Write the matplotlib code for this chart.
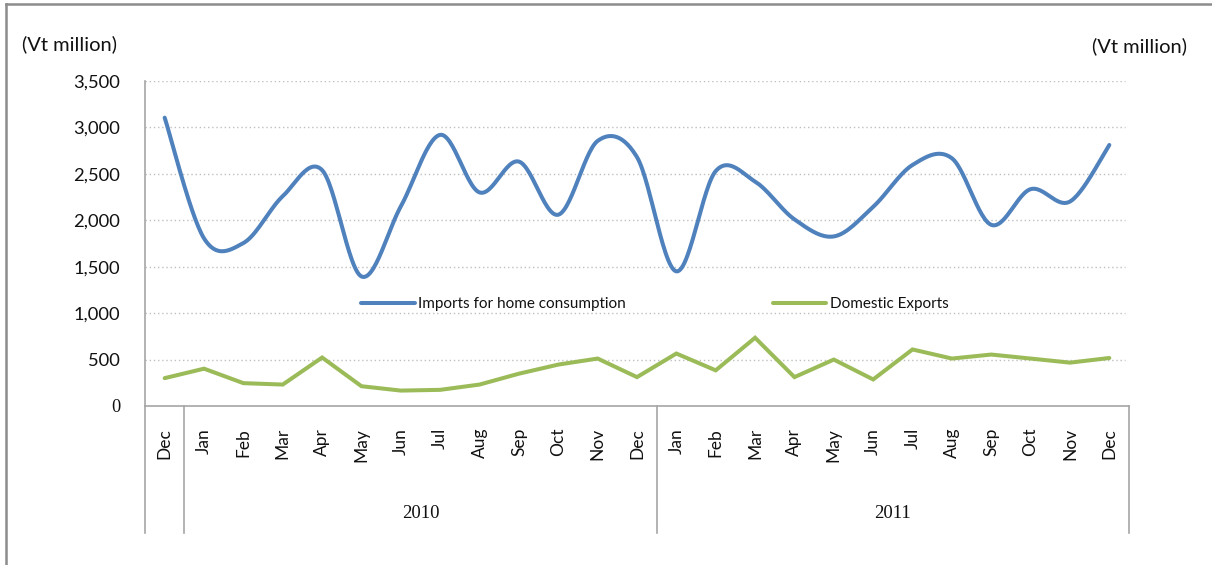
import numpy as np
import matplotlib
matplotlib.use("Agg")
import matplotlib.pyplot as plt
from matplotlib.lines import Line2D
import matplotlib.transforms as mtransforms

months = ["Dec", "Jan", "Feb", "Mar", "Apr", "May", "Jun", "Jul", "Aug", "Sep", "Oct", "Nov", "Dec",
          "Jan", "Feb", "Mar", "Apr", "May", "Jun", "Jul", "Aug", "Sep", "Oct", "Nov", "Dec"]
years = ["2010", "2011"]
imports_home = [3105, 1805, 1755, 2260, 2540, 1395, 2150, 2920, 2300, 2632, 2060, 2855, 2680,
                1450, 2530, 2417, 2010, 1826, 2145, 2596, 2668, 1951, 2335, 2202, 2811]
domestic_exports = [300, 402, 246, 231, 522, 213, 166, 174, 231, 348, 446, 511, 311,
                    565, 384, 735, 311, 500, 286, 609, 511, 554, 511, 467, 517]
yticks = [0, 500, 1000, 1500, 2000, 2500, 3000, 3500]

BLUE = "#4F81BD"
GREEN = "#9BBB59"
FONT = "Lato"
TXT = "#111111"


def smooth(xs, ys, n=30):
    xs = np.asarray(xs, float)
    ys = np.asarray(ys, float)
    P = np.column_stack([xs, ys])
    Pe = np.vstack([P[0], P, P[-1]])
    out = []
    t = np.linspace(0, 1, n)[:, None]
    for i in range(len(P) - 1):
        p0, p1, p2, p3 = Pe[i], Pe[i + 1], Pe[i + 2], Pe[i + 3]
        b0 = p1
        b1 = p1 + (p2 - p0) / 6.0
        b2 = p2 - (p3 - p1) / 6.0
        b3 = p2
        seg = ((1 - t) ** 3) * b0 + 3 * ((1 - t) ** 2) * t * b1 + 3 * (1 - t) * t ** 2 * b2 + t ** 3 * b3
        out.append(seg if i == 0 else seg[1:])
    out = np.vstack(out)
    return out[:, 0], out[:, 1]


W, H = 1212, 565
fig = plt.figure(figsize=(W / 100, H / 100), dpi=100)
fig.patch.set_facecolor("white")

x0, x1, y0, y1 = 145, 1129, 406, 81
ax = fig.add_axes([x0 / W, 1 - y0 / H, (x1 - x0) / W, (y0 - y1) / H])

n = len(months)
x = np.arange(n)
ax.set_xlim(-0.5, n - 0.5)
ax.set_ylim(0, 3500)

for v in yticks[1:]:
    ax.axhline(v, xmin=0, xmax=(1125 - x0) / (x1 - x0), color="#BFBFBF", lw=1.0,
               linestyle=(0, (1, 2.0)), zorder=1)

sx, sy = smooth(x, imports_home)
ax.plot(sx, sy, color=BLUE, lw=2.9, solid_capstyle="round", zorder=3,
        label="Imports for home consumption")
ax.plot(x, domestic_exports, color=GREEN, lw=2.9, solid_capstyle="round",
        solid_joinstyle="miter", zorder=3, label="Domestic Exports")

for s in ["top", "right"]:
    ax.spines[s].set_visible(False)
for s in ["left", "bottom"]:
    ax.spines[s].set_color("#A6A6A6")
    ax.spines[s].set_linewidth(1.2)

ax.set_yticks(yticks)
ax.set_yticklabels([f"{v:,}" for v in yticks], fontsize=13.2, family=FONT, color=TXT)
ax.tick_params(axis="y", length=0, pad=18)
ax.get_yticklabels()[0].set_family("Liberation Serif")
ax.set_xticks([])

trans = mtransforms.blended_transform_factory(ax.transData, fig.transFigure)
for i, m in enumerate(months):
    ax.text(i, 1 - 428 / H, m, rotation=90, ha="center", va="top", fontsize=12.5,
            family=FONT, color=TXT, transform=trans)

# separators of the category box
for xb in [-0.5, 0.5, 12.5, n - 0.5]:
    ax.add_line(Line2D([xb, xb], [1 - y0 / H, 1 - 533 / H], transform=trans,
                       color="#A6A6A6", lw=1.2, clip_on=False))
ax.text((0.5 + 12.5) / 2, 1 - 514 / H, years[0], ha="center", va="center", fontsize=13.5,
        family="Liberation Serif", color=TXT, transform=trans)
ax.text((12.5 + n - 0.5) / 2, 1 - 514 / H, years[1], ha="center", va="center", fontsize=13.5,
        family="Liberation Serif", color=TXT, transform=trans)

leg = ax.legend(loc="center", bbox_to_anchor=((655 - x0) / (x1 - x0), (y0 - 304) / (y0 - y1)),
                ncol=2, frameon=False, prop={"family": FONT, "size": 11},
                handlelength=3.5, handletextpad=0.25, columnspacing=9.6)
for t in leg.get_texts():
    t.set_color(TXT)

fig.text(22 / W, 1 - 44 / H, "(Vt million)", ha="left", va="center", fontsize=14.5,
         family=FONT, color=TXT)
fig.text(1187 / W, 1 - 46 / H, "(Vt million)", ha="right", va="center", fontsize=14.5,
         family=FONT, color=TXT)

# outer frame (top and left)
fig.add_artist(Line2D([6 / W, 6 / W], [0, 1 - 4 / H], transform=fig.transFigure,
                      color="#8C8C8C", lw=1.8))
fig.add_artist(Line2D([6 / W, 1], [1 - 4 / H, 1 - 4 / H], transform=fig.transFigure,
                      color="#8C8C8C", lw=1.8))

fig.savefig("out.png", dpi=100)
